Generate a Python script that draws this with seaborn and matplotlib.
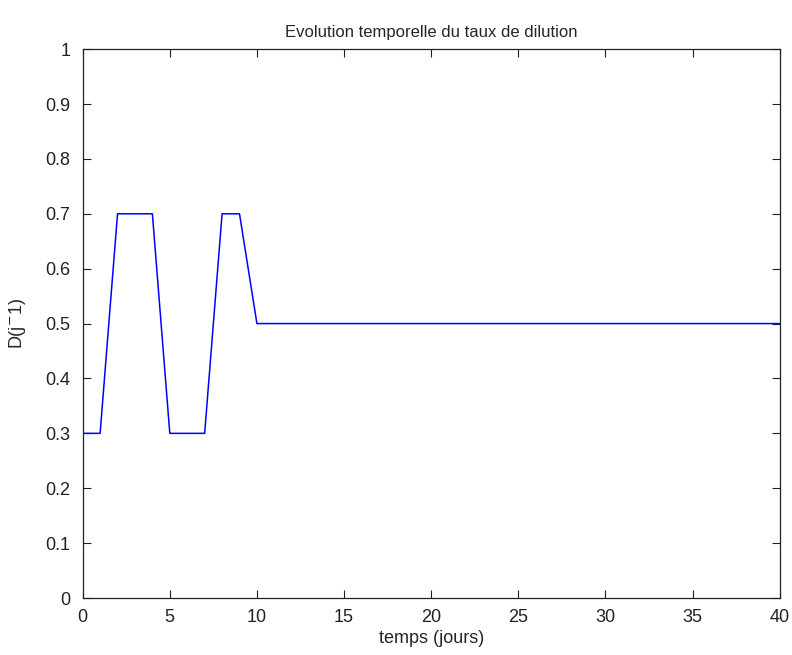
import matplotlib
matplotlib.use("Agg")
import matplotlib.pyplot as plt
import seaborn as sns
import pandas as pd

time_days = [0, 1, 2, 4, 5, 7, 8, 9, 10, 40]
dilution = [0.3, 0.3, 0.7, 0.7, 0.3, 0.3, 0.7, 0.7, 0.5, 0.5]
x_ticks = [0, 5, 10, 15, 20, 25, 30, 35, 40]
y_ticks = [0, 0.1, 0.2, 0.3, 0.4, 0.5, 0.6, 0.7, 0.8, 0.9, 1]
y_tick_labels = ["0", "0.1", "0.2", "0.3", "0.4", "0.5", "0.6", "0.7", "0.8", "0.9", "1"]

sns.set_style("ticks")
plt.rcParams['font.family'] = ['Liberation Sans', 'DejaVu Sans']

df = pd.DataFrame({"t": time_days, "D": dilution})

fig = plt.figure(figsize=(7.92, 6.55), dpi=100)
ax = fig.add_axes([0.1044, 0.087, 0.880, 0.838])
sns.lineplot(data=df, x="t", y="D", ax=ax, color="#0000ff", linewidth=1.1, sort=False)

ax.set_xlim(0, 40)
ax.set_ylim(0, 1)
ax.set_xticks(x_ticks)
ax.set_xticklabels([str(v) for v in x_ticks])
ax.set_yticks(y_ticks)
ax.set_yticklabels(y_tick_labels)
ax.tick_params(direction="in", length=6, width=0.8, labelsize=13, colors="#222222",
               top=True, right=True)
ax.tick_params(axis="x", pad=8)
ax.tick_params(axis="y", pad=9)
for s in ax.spines.values():
    s.set_visible(True)
    s.set_linewidth(0.9)
    s.set_color("#222222")
ax.set_xlabel("temps (jours)", fontsize=13, labelpad=3)
ax.set_ylabel("D(j$^{-}$1)", fontsize=13, labelpad=12)
ax.set_title("Evolution temporelle du taux de dilution", fontsize=12, pad=9)

fig.savefig("out.png", dpi=100, facecolor="white")
